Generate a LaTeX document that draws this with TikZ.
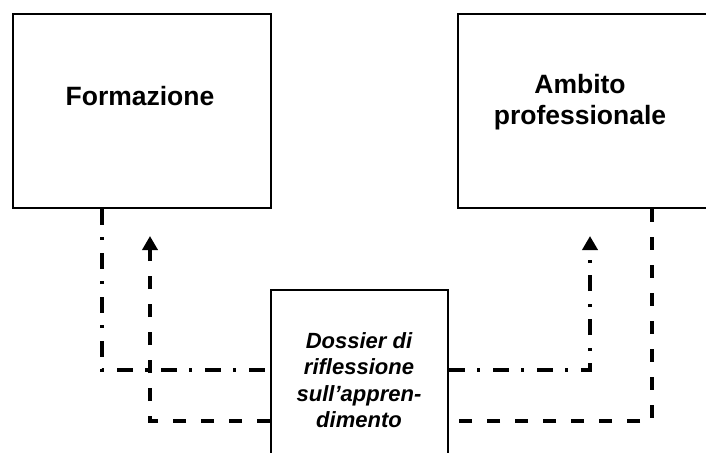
\documentclass[tikz,border=0pt]{standalone}
\usepackage{fontspec}
\setmainfont{Liberation Sans}
\usetikzlibrary{arrows.meta}
\begin{document}
\begin{tikzpicture}[x=1pt,y=-1pt,
  boxstyle/.style={draw=black,line width=2pt,fill=white,inner sep=0pt},
  lbl/.style={align=center,font=\fontsize{26.5}{30.8}\selectfont\bfseries,inner sep=0pt},
  dlbl/.style={align=center,font=\fontsize{22}{26.5}\selectfont\bfseries\itshape,inner sep=0pt},
  dashline/.style={line width=3.6pt,dash pattern=on 13pt off 15pt},
  dotline/.style={line width=3.6pt,dash pattern=on 16pt off 12pt on 3pt off 13pt},
  tip/.style={-{Triangle[width=15pt,length=14pt]}}]
\useasboundingbox (0,0) rectangle (706,452);
\clip (0,0) rectangle (706,452);
\node[boxstyle,minimum width=258pt,minimum height=194pt,anchor=north west] (form) at (12,13) {};
\node[boxstyle,minimum width=256pt,minimum height=194pt,anchor=north west] (amb) at (457,13) {};
\node[boxstyle,minimum width=177pt,minimum height=180pt,anchor=north west] (dos) at (270,289) {};
\node[lbl] (formt) at (140,96) {Formazione};
\node[lbl] (ambt) at (580,102) {Ambito\\professionale};
\node[dlbl] (dost) at (359,380) {Dossier di\\riflessione\\sull’appren-\\dimento};
\coordinate (c1) at (102,370);
\coordinate (c2) at (590,370);
\coordinate (a2) at (590,236);
\coordinate (c3) at (150,421);
\coordinate (a3) at (150,236);
\coordinate (c4) at (652,421);
\draw[dotline] (form.south -| c1) -- (c1) -- (c1 -| dos.west);
\draw[dotline,tip] (c2 -| dos.east) -- (c2) -- (a2);
\draw[dashline,tip] (c3 -| dos.west) -- (c3) -- (a3);
\draw[dashline] (amb.south -| c4) -- (c4) -- (c4 -| dos.east);
\end{tikzpicture}
\end{document}
